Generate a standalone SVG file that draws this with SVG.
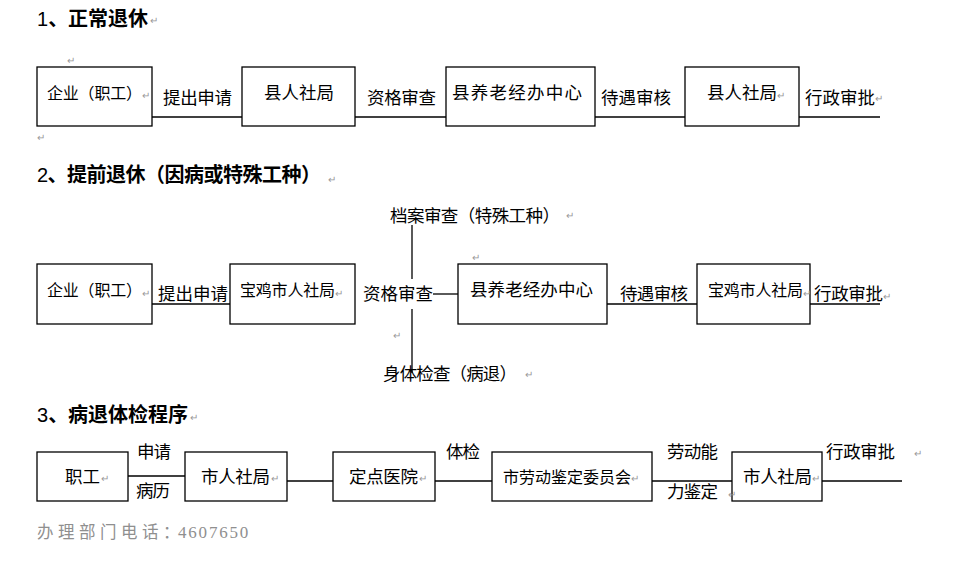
<svg xmlns="http://www.w3.org/2000/svg" width="963" height="577" viewBox="0 0 963 577">
<style>
text{font-family:"Noto Sans CJK SC","Liberation Sans",sans-serif;fill:#000}
.t{font-size:20px;font-weight:bold}
.n{font-size:17.5px}
.s{font-size:16px}
.box{fill:#fff;stroke:#000;stroke-width:1.3}
.ln{stroke:#000;stroke-width:1.3;fill:none}
.pm{font-size:10px;fill:#999}
.ft{font-family:"Liberation Serif","Noto Sans CJK SC",serif;font-size:17px;fill:#8f8f8f}
</style>
<rect width="963" height="577" fill="#fff"/>

<!-- titles -->
<g id="titles">
<text class="t" x="37" y="26"><tspan font-family="Liberation Sans" font-weight="normal">1</tspan>、正常退休</text>
<text class="t" x="37" y="182" textLength="284" lengthAdjust="spacing"><tspan font-family="Liberation Sans" font-weight="normal">2</tspan>、提前退休（因病或特殊工种）</text>
<text class="t" x="37" y="422"><tspan font-family="Liberation Sans" font-weight="normal">3</tspan>、病退体检程序</text>
</g>

<!-- connectors -->
<g id="connectors">
<line class="ln" x1="152" y1="117" x2="242" y2="117"/>
<line class="ln" x1="355" y1="117" x2="446" y2="117"/>
<line class="ln" x1="595" y1="117" x2="685" y2="117"/>
<line class="ln" x1="799" y1="117" x2="880" y2="117"/>
<text class="n" x="163" y="104" textLength="69">提出申请</text>
<text class="n" x="367" y="104" textLength="69">资格审查</text>
<text class="n" x="601" y="104" textLength="70">待遇审核</text>
<text class="n" x="805" y="104" textLength="70">行政审批</text>

<line class="ln" x1="152" y1="304" x2="230" y2="304"/>
<line class="ln" x1="433" y1="294" x2="458" y2="294"/>
<line class="ln" x1="412" y1="225" x2="412" y2="279"/>
<line class="ln" x1="412" y1="309" x2="412" y2="373"/>
<line class="ln" x1="607" y1="304" x2="697" y2="304"/>
<line class="ln" x1="810" y1="304" x2="880" y2="304"/>
<text class="n" x="158" y="300" textLength="70">提出申请</text>
<text class="n" x="363" y="300" textLength="70">资格审查</text>
<text class="n" x="390" y="222" textLength="170" font-size="17">档案审查（特殊工种）</text>
<text class="n" x="383" y="380" textLength="134" font-size="17">身体检查（病退）</text>
<text class="n" x="620" y="300" textLength="68">待遇审核</text>
<text class="n" x="814" y="300" textLength="69">行政审批</text>

<line class="ln" x1="128" y1="476" x2="185" y2="476"/>
<line class="ln" x1="287" y1="481" x2="333" y2="481"/>
<line class="ln" x1="435" y1="481" x2="492" y2="481"/>
<line class="ln" x1="652" y1="481" x2="732" y2="481"/>
<line class="ln" x1="822" y1="481" x2="902" y2="481"/>
<text class="n" x="137" y="458" textLength="34">申请</text>
<text class="n" x="136" y="497" textLength="34">病历</text>
<text class="n" x="446" y="458" textLength="34">体检</text>
<text class="n" x="667" y="458" textLength="51">劳动能</text>
<text class="n" x="667" y="498" textLength="51">力鉴定</text>
<text class="n" x="826" y="458" textLength="69">行政审批</text>
</g>

<!-- row 1 nodes -->
<g id="r1n1"><rect class="box" x="37" y="67" width="115" height="59"/><text class="s" x="47" y="99" textLength="95">企业（职工）</text></g>
<g id="r1n2"><rect class="box" x="242" y="67" width="113" height="59"/><text class="n" x="264" y="99" textLength="70">县人社局</text></g>
<g id="r1n3"><rect class="box" x="446" y="67" width="149" height="59"/><text class="n" x="452" y="99" textLength="130">县养老经办中心</text></g>
<g id="r1n4"><rect class="box" x="685" y="67" width="114" height="59"/><text class="n" x="707" y="99" textLength="70">县人社局</text></g>

<!-- row 2 nodes -->
<g id="r2n1"><rect class="box" x="37" y="264" width="115" height="60"/><text class="s" x="47" y="296" textLength="95">企业（职工）</text></g>
<g id="r2n2"><rect class="box" x="230" y="264" width="125" height="60"/><text class="s" x="240" y="296" textLength="95">宝鸡市人社局</text></g>
<g id="r2n3"><rect class="box" x="458" y="264" width="149" height="60"/><text class="n" x="470" y="296" textLength="123">县养老经办中心</text></g>
<g id="r2n4"><rect class="box" x="697" y="264" width="113" height="60"/><text class="s" x="708" y="296" textLength="95">宝鸡市人社局</text></g>

<!-- row 3 nodes -->
<g id="r3n1"><rect class="box" x="37" y="452" width="91" height="49"/><text class="n" x="65" y="483" textLength="35">职工</text></g>
<g id="r3n2"><rect class="box" x="185" y="452" width="102" height="49"/><text class="n" x="201" y="483" textLength="69">市人社局</text></g>
<g id="r3n3"><rect class="box" x="333" y="452" width="102" height="49"/><text class="n" x="349" y="483" textLength="69">定点医院</text></g>
<g id="r3n4"><rect class="box" x="492" y="452" width="160" height="49"/><text class="s" x="503" y="483" textLength="128">市劳动鉴定委员会</text></g>
<g id="r3n5"><rect class="box" x="732" y="452" width="90" height="49"/><text class="n" x="743" y="483" textLength="69">市人社局</text></g>

<!-- footer -->
<text class="ft" x="37" y="538"><tspan font-family="Noto Sans CJK SC" font-size="16.5" letter-spacing="4.5">办理部门电话：</tspan><tspan x="178" letter-spacing="1.8">4607650</tspan></text>

<!-- paragraph marks -->
<g id="marks">
<text class="pm" x="150" y="24">↵</text>
<text class="pm" x="67" y="64">↵</text>
<text class="pm" x="142" y="99">↵</text>
<text class="pm" x="37" y="141">↵</text>
<text class="pm" x="777" y="99">↵</text>
<text class="pm" x="875" y="102">↵</text>
<text class="pm" x="328" y="183">↵</text>
<text class="pm" x="142" y="297">↵</text>
<text class="pm" x="335" y="297">↵</text>
<text class="pm" x="566" y="219">↵</text>
<text class="pm" x="472" y="261">↵</text>
<text class="pm" x="393" y="339">↵</text>
<text class="pm" x="525" y="378">↵</text>
<text class="pm" x="803" y="297">↵</text>
<text class="pm" x="883" y="300">↵</text>
<text class="pm" x="190" y="421">↵</text>
<text class="pm" x="101" y="482">↵</text>
<text class="pm" x="271" y="482">↵</text>
<text class="pm" x="419" y="482">↵</text>
<text class="pm" x="631" y="482">↵</text>
<text class="pm" x="728" y="498">↵</text>
<text class="pm" x="812" y="482">↵</text>
<text class="pm" x="914" y="457">↵</text>
</g>
</svg>
